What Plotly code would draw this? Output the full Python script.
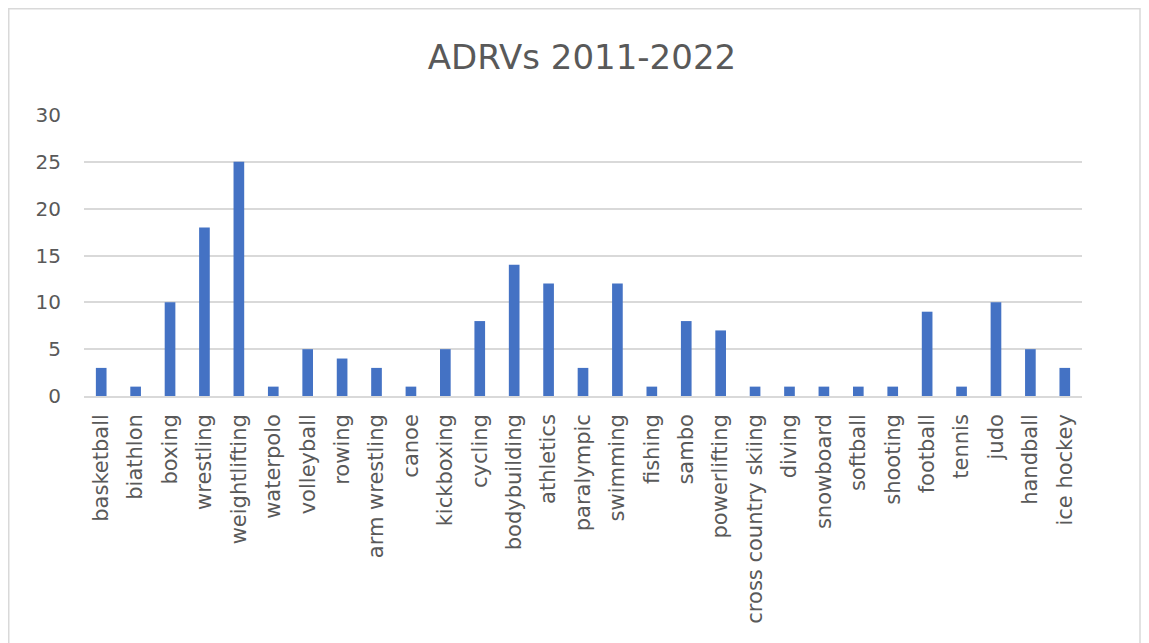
import plotly.graph_objects as go

categories = ["basketball", "biathlon", "boxing", "wrestling", "weightlifting", "waterpolo",
              "volleyball", "rowing", "arm wrestling", "canoe", "kickboxing", "cycling",
              "bodybuilding", "athletics", "paralympic", "swimming", "fishing", "sambo",
              "powerlifting", "cross country skiing", "diving", "snowboard", "softball",
              "shooting", "football", "tennis", "judo", "handball", "ice hockey"]
values = [3, 1, 10, 18, 25, 1, 5, 4, 3, 1, 5, 8, 14, 12, 3, 12, 1, 8, 7, 1, 1, 1, 1, 1, 9, 1, 10, 5, 3]
y_ticks = [0, 5, 10, 15, 20, 25, 30]
title_text = "ADRVs 2011-2022"

# page has an 8px body margin, so the figure is sized/offset to compensate
W, H = 1141, 635
L, R, T, B = 76, 67, 107, 247
pw, ph = W - L - R, H - T - B

FONT = "DejaVu Sans, Verdana, sans-serif"

fig = go.Figure(go.Bar(x=categories, y=values, marker=dict(color="#4472C4", line=dict(width=0))))

def px_x(x):
    return (x - L) / pw

def px_y(y):
    return (H - B - y) / ph

fig.update_layout(
    width=W, height=H,
    margin=dict(l=L, r=R, t=T, b=B),
    paper_bgcolor="white", plot_bgcolor="white",
    font=dict(family=FONT, color="#595959"),
    title=dict(text=title_text, x=(582 - 8) / W, xanchor="center", y=1 - 49 / H, yanchor="middle",
               font=dict(size=34, color="#595959", family=FONT)),
    bargap=0.69,
    showlegend=False,
    shapes=[dict(type="rect", xref="paper", yref="paper",
                 x0=px_x(0.75), x1=px_x(1132), y0=px_y(640), y1=px_y(0.75),
                 line=dict(color="#D9D9D9", width=1.5), fillcolor="rgba(0,0,0,0)", layer="below")],
)
fig.update_xaxes(tickangle=-90, tickfont=dict(size=21, color="#595959", family=FONT), showgrid=False,
                 showline=True, linecolor="#D9D9D9", linewidth=1.5, ticks="", ticklen=0,
                 ticklabelstandoff=8)
fig.update_yaxes(range=[0, 30], tickvals=y_ticks, tickfont=dict(size=20, color="#595959", family=FONT),
                 showgrid=True, gridcolor="#D9D9D9", gridwidth=1.5, zeroline=False,
                 showline=False, ticks="", ticklabelstandoff=22)

fig.write_html("out.html")
